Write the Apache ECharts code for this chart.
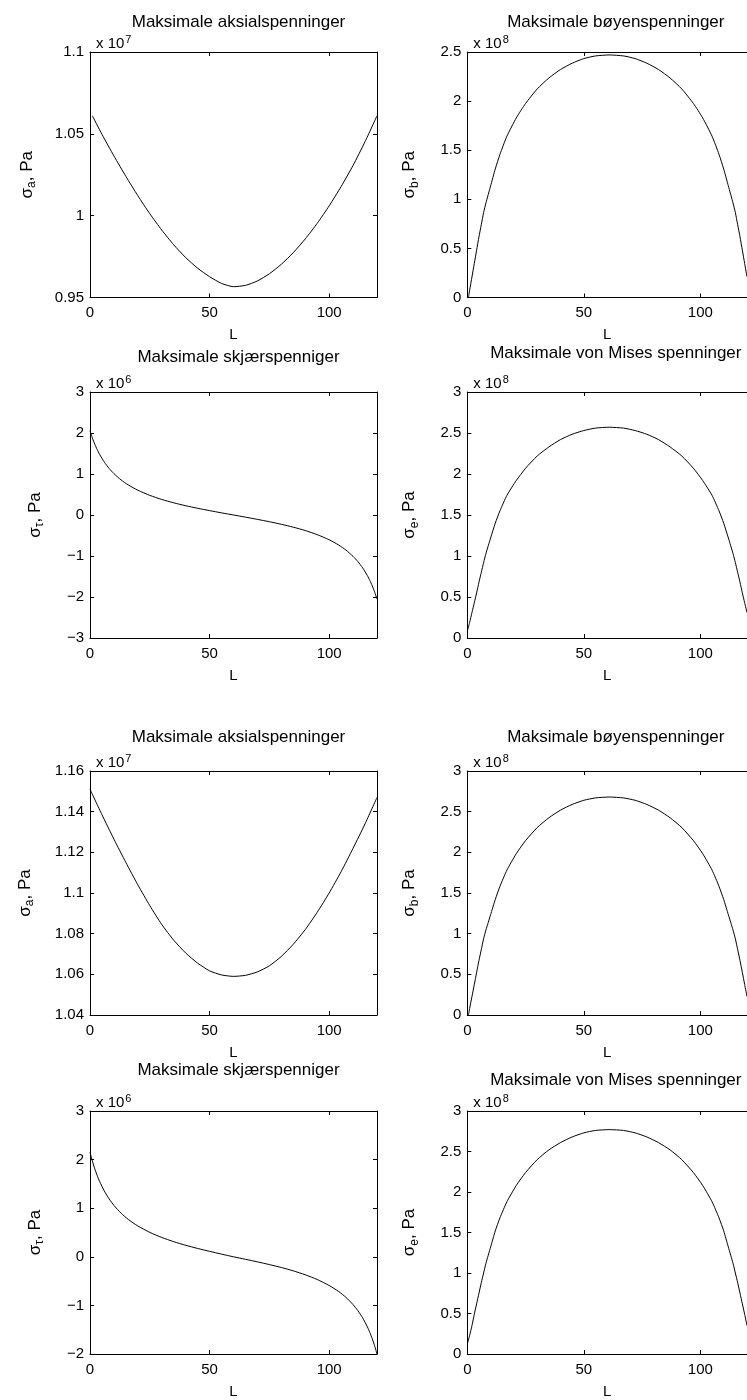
<!DOCTYPE html>
<html><head><meta charset="utf-8">
<script src="https://cdn.jsdelivr.net/npm/echarts@6/dist/echarts.min.js"></script>
<style>html,body{margin:0;padding:0;background:#fff}#c{width:747px;height:1400px}</style>
</head><body><div id="c"></div>
<script>
// ---------------- data (values in axis units; multiplier shown as "x 10^n") ----------------
const panelTitles = ['Maksimale aksialspenninger','Maksimale bøyenspenninger','Maksimale skjærspenniger','Maksimale von Mises spenninger',
                     'Maksimale aksialspenninger','Maksimale bøyenspenninger','Maksimale skjærspenniger','Maksimale von Mises spenninger'];
const exponents = [7, 8, 6, 8, 7, 8, 6, 8];
const ySubs = ['a','b','τ','e','a','b','τ','e'];
const xTicks = [0, 50, 100];

// Figure 1
const L_ax1  = [1,5,10,15,20,25,30,35,40,45,50,55,60,65,70,75,80,85,90,95,100,105,110,115,120];
const sigA1  = [1.061,1.0497,1.0365,1.024,1.0122,1.0012,0.9912,0.9822,0.9744,0.9679,0.9627,0.9586,0.9566,0.9574,0.9601,0.9645,0.9703,0.9774,0.9858,0.9953,1.006,1.0178,1.0307,1.0452,1.061];
const L_b1   = [0.5,1,2,3,4,5,6,7,8,10,12,14,17,21,25,30,35,40,45,50,55,61,67,72,77,82,87,92,97,101,105,108,110,112,114,115,116,117,118,119,120];
const sigB1  = [0,0.074,0.21,0.346,0.482,0.618,0.741,0.865,0.963,1.136,1.309,1.457,1.643,1.828,1.976,2.124,2.235,2.322,2.386,2.433,2.46,2.47,2.46,2.433,2.386,2.322,2.235,2.124,1.976,1.828,1.643,1.457,1.309,1.136,0.963,0.865,0.741,0.618,0.482,0.346,0.21];
const L_t1   = [0,1,2,3,4,6,8,10,13,16,20,25,30,35,40,45,50,55,60,65,70,75,80,85,90,95,100,104,107,110,112,114,116,117,118,119,120];
const sigT1  = [2.05,1.876,1.726,1.595,1.481,1.289,1.136,1.009,0.855,0.733,0.604,0.479,0.379,0.297,0.226,0.164,0.107,0.052,0,-0.052,-0.107,-0.164,-0.226,-0.297,-0.379,-0.479,-0.604,-0.733,-0.855,-1.009,-1.136,-1.289,-1.481,-1.595,-1.726,-1.876,-2.05];
const L_e1   = [0,1,2,3,4,5,6,7,8,10,12,14,17,21,25,30,35,40,45,50,55,61,67,72,77,82,87,92,97,101,105,108,110,112,114,115,116,117,118,119,120];
const sigE1  = [0.08,0.19,0.31,0.43,0.55,0.68,0.8,0.92,1.03,1.22,1.4,1.55,1.74,1.92,2.07,2.22,2.33,2.42,2.485,2.53,2.56,2.57,2.56,2.53,2.485,2.42,2.33,2.22,2.07,1.92,1.74,1.55,1.4,1.22,1.03,0.92,0.8,0.68,0.55,0.43,0.31];

// Figure 2
const L_ax2  = [0,5,10,15,20,25,30,35,40,45,50,55,60,65,70,75,80,85,90,95,100,105,110,115,120];
const sigA2  = [1.151,1.1385,1.1265,1.115,1.104,1.0938,1.0845,1.0768,1.0705,1.0655,1.0617,1.0597,1.059,1.0595,1.0612,1.0642,1.0688,1.0748,1.082,1.0905,1.1,1.1105,1.122,1.134,1.147];
const L_b2   = [0.5,1,2,3,4,5,6,7,8,10,12,14,17,21,25,30,35,40,45,50,55,61,67,72,77,82,87,92,97,101,105,108,110,112,114,115,116,117,118,119,120];
const sigB2  = [0,0.08,0.228,0.375,0.523,0.67,0.804,0.938,1.045,1.233,1.42,1.581,1.782,1.983,2.144,2.305,2.425,2.519,2.589,2.64,2.669,2.68,2.669,2.64,2.589,2.519,2.425,2.305,2.144,1.983,1.782,1.581,1.42,1.233,1.045,0.938,0.804,0.67,0.523,0.375,0.228];
const L_t2   = [0,1,2,3,4,6,8,10,13,16,20,25,30,35,40,45,50,55,60,65,70,75,80,85,90,95,100,104,107,110,112,114,116,117,118,119,120];
const sigT2  = [2.15,1.968,1.81,1.673,1.553,1.352,1.191,1.058,0.897,0.769,0.634,0.502,0.398,0.311,0.237,0.172,0.112,0.055,0,-0.051,-0.104,-0.16,-0.22,-0.289,-0.37,-0.467,-0.59,-0.715,-0.834,-0.984,-1.108,-1.257,-1.444,-1.556,-1.683,-1.83,-2.0];
const L_e2   = [0,1,2,3,4,5,6,7,8,10,12,14,17,21,25,30,35,40,45,50,55,61,67,72,77,82,87,92,97,101,105,108,110,112,114,115,116,117,118,119,120];
const sigE2  = [0.12,0.23,0.35,0.49,0.62,0.75,0.88,1.0,1.12,1.32,1.52,1.68,1.88,2.08,2.24,2.4,2.52,2.61,2.68,2.73,2.76,2.77,2.76,2.73,2.68,2.61,2.52,2.4,2.24,2.08,1.88,1.68,1.52,1.32,1.12,1.0,0.88,0.75,0.62,0.49,0.35];

const seriesX = [L_ax1, L_b1, L_t1, L_e1, L_ax2, L_b2, L_t2, L_e2];
const seriesY = [sigA1, sigB1, sigT1, sigE1, sigA2, sigB2, sigT2, sigE2];
const yRanges = [[0.95,1.1,0.05],[0,2.5,0.5],[-3,3,1],[0,3,0.5],[1.04,1.16,0.02],[0,3,0.5],[-2,3,1],[0,3,0.5]];

// ---------------- layout ----------------
const FONT = "'Liberation Sans', Arial, Helvetica, sans-serif";
const rowTop = [52, 392, 771, 1111];
const rowH   = [245.5, 246, 244, 245];
const colLeft = [90, 467.3];
const boxW = 287;
const yNameGap = [[52, 47],[44, 47],[54, 47],[44, 47]];
const titleY = [[18, 18],[353, 349],[733, 733],[1066, 1076]];

const fmt = v => String(Number(v.toFixed(6))).replace('-', '\u2212');

const grid = [], xAxis = [], yAxis = [], series = [], title = [];
for (let i = 0; i < 8; i++) {
  const r = Math.floor(i / 2), c = i % 2;
  const [ymin, ymax, yint] = yRanges[i];
  grid.push({ left: colLeft[c], top: rowTop[r], width: boxW, height: rowH[r], containLabel: false });
  const axLine = { show: true, onZero: false, lineStyle: { color: '#000', width: 1 } };
  const tick = { show: true, inside: true, length: 4, lineStyle: { color: '#000', width: 1 } };
  xAxis.push({
    gridIndex: i, type: 'value', min: 0, max: 120, interval: 50, position: 'bottom',
    axisLine: axLine, axisTick: tick, splitLine: { show: false },
    axisLabel: { color: '#000', fontFamily: FONT, fontSize: 15, margin: 8, showMaxLabel: false, formatter: fmt },
    name: 'L', nameLocation: 'middle', nameGap: 30,
    nameTextStyle: { color: '#000', fontFamily: FONT, fontSize: 15 }
  });
  xAxis.push({
    gridIndex: i, type: 'value', min: 0, max: 120, interval: 50, position: 'top',
    axisLine: axLine, axisTick: tick, splitLine: { show: false }, axisLabel: { show: false }
  });
  yAxis.push({
    gridIndex: i, type: 'value', min: ymin, max: ymax, interval: yint, position: 'left',
    axisLine: axLine, axisTick: tick, splitLine: { show: false },
    axisLabel: { color: '#000', fontFamily: FONT, fontSize: 15, margin: 6, formatter: fmt },
    name: '{s|σ}{sub|' + ySubs[i] + '}{s|, Pa}', nameLocation: 'middle', nameRotate: 90, nameGap: yNameGap[r][c],
    nameTextStyle: { color: '#000', fontFamily: FONT, fontSize: 17,
      rich: { s: { fontFamily: FONT, fontSize: 17, color: '#000' },
              sub: { fontFamily: FONT, fontSize: 12, color: '#000', padding: [9, 0, 0, 0] } } }
  });
  yAxis.push({
    gridIndex: i, type: 'value', min: ymin, max: ymax, interval: yint, position: 'right',
    axisLine: axLine, axisTick: c === 1 ? { show: false } : tick, splitLine: { show: false }, axisLabel: { show: false }
  });
  series.push({
    type: 'line', xAxisIndex: 2 * i, yAxisIndex: 2 * i,
    data: seriesX[i].map((x, k) => [x, seriesY[i][k]]),
    showSymbol: false, smooth: 0.2, silent: true,
    lineStyle: { color: '#000', width: 1 }
  });
  title.push({
    text: panelTitles[i], left: colLeft[c] + boxW / 2, top: titleY[r][c] - 9, textAlign: 'center',
    textStyle: { color: '#000', fontFamily: FONT, fontSize: 17, fontWeight: 'normal' }
  });
  title.push({
    text: '{b|x 10}{p|' + exponents[i] + '}', left: colLeft[c] + 1, top: rowTop[r] - 23,
    textStyle: { color: '#000', fontFamily: FONT, fontSize: 15, fontWeight: 'normal',
      rich: { b: { fontFamily: FONT, fontSize: 15, color: '#000' },
              p: { fontFamily: FONT, fontSize: 11, color: '#000', padding: [0, 0, 9, 1] } } }
  });
}

const chart = echarts.init(document.getElementById('c'), null, { renderer: 'canvas' });
chart.setOption({ animation: false, backgroundColor: '#fff', title, grid, xAxis, yAxis, series });
</script></body></html>
